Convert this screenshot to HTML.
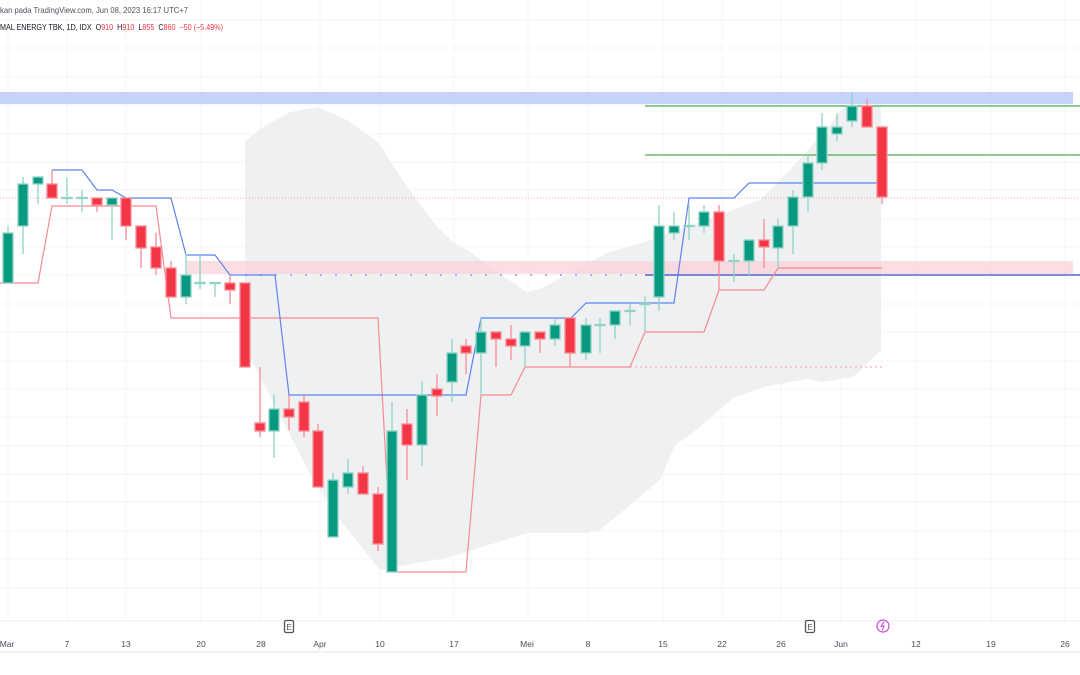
<!DOCTYPE html>
<html><head><meta charset="utf-8"><style>
html,body{margin:0;padding:0;background:#fff;width:1080px;height:675px;overflow:hidden}
svg{display:block;font-family:"Liberation Sans",sans-serif}
</style></head><body>
<svg width="1080" height="675" viewBox="0 0 1080 675" xmlns="http://www.w3.org/2000/svg">
<rect width="1080" height="675" fill="#fff"/>
<g stroke="#f3f4f6" stroke-width="1">
<line x1="0" y1="20" x2="1080" y2="20"/><line x1="0" y1="48" x2="1080" y2="48"/><line x1="0" y1="77" x2="1080" y2="77"/><line x1="0" y1="105" x2="1080" y2="105"/><line x1="0" y1="134" x2="1080" y2="134"/><line x1="0" y1="162" x2="1080" y2="162"/><line x1="0" y1="190" x2="1080" y2="190"/><line x1="0" y1="219" x2="1080" y2="219"/><line x1="0" y1="247" x2="1080" y2="247"/><line x1="0" y1="275" x2="1080" y2="275"/><line x1="0" y1="304" x2="1080" y2="304"/><line x1="0" y1="332" x2="1080" y2="332"/><line x1="0" y1="361" x2="1080" y2="361"/><line x1="0" y1="389" x2="1080" y2="389"/><line x1="0" y1="417" x2="1080" y2="417"/><line x1="0" y1="446" x2="1080" y2="446"/><line x1="0" y1="474" x2="1080" y2="474"/><line x1="0" y1="502" x2="1080" y2="502"/><line x1="0" y1="531" x2="1080" y2="531"/><line x1="0" y1="559" x2="1080" y2="559"/><line x1="0" y1="588" x2="1080" y2="588"/>
<line x1="8" y1="0" x2="8" y2="621"/><line x1="67" y1="0" x2="67" y2="621"/><line x1="126" y1="0" x2="126" y2="621"/><line x1="201" y1="0" x2="201" y2="621"/><line x1="261" y1="0" x2="261" y2="621"/><line x1="320" y1="0" x2="320" y2="621"/><line x1="380" y1="0" x2="380" y2="621"/><line x1="454" y1="0" x2="454" y2="621"/><line x1="528" y1="0" x2="528" y2="621"/><line x1="588" y1="0" x2="588" y2="621"/><line x1="663" y1="0" x2="663" y2="621"/><line x1="722" y1="0" x2="722" y2="621"/><line x1="781" y1="0" x2="781" y2="621"/><line x1="841" y1="0" x2="841" y2="621"/><line x1="916" y1="0" x2="916" y2="621"/><line x1="991" y1="0" x2="991" y2="621"/><line x1="1065" y1="0" x2="1065" y2="621"/>
</g>
<!-- cloud -->
<path d="M245,142 L260,129 L290,112 L318,107 L347,120 L378,142 L407,187 L437,227 L453,242 L470,252 L497,272 L527,292 L542,288 L570,273 L607,253 L645,242 L700,222 L760,200 L787,173 L817,140 L850,100 L867,92 L881,92 L881,350 L853,377 L823,382 L807,379 L763,387 L733,398 L705,422 L690,435 L675,445 L660,480 L600,530 L587,533 L527,533 L450,557 L380,570 L340,520 L313,480 L250,357 L245,350 Z" fill="#eff0f2"/>
<rect x="0" y="92" width="1073" height="12" fill="#c5d3fb"/>
<rect x="187" y="261" width="886" height="13" fill="#f9d3d8" opacity="0.75"/>
<line x1="645" y1="106" x2="1080" y2="106" stroke="#4caf50" stroke-width="1.3"/>
<line x1="645" y1="155" x2="1080" y2="155" stroke="#4caf50" stroke-width="1.3"/>
<line x1="0" y1="198" x2="1080" y2="198" stroke="#f5a0a8" stroke-width="1" stroke-dasharray="1,2"/>
<line x1="630" y1="367" x2="882" y2="367" stroke="#f5a0a8" stroke-width="1" stroke-dasharray="2,3"/>
<line x1="245" y1="275" x2="645" y2="275" stroke="#9fb4f5" stroke-width="2" stroke-dasharray="2,13"/>
<line x1="645" y1="275" x2="1080" y2="275" stroke="#2c4bc7" stroke-width="1.2"/>
<!-- lines -->
<polyline fill="none" stroke="#f68b91" stroke-width="1.2" points="0,283 38,283 52,206 156,206 171,318 378,318 392,572 466,572 481,395 511,395 525,367 630,367 645,332 704,332 719,290 764,290 778,268 882,268"/>
<polyline fill="none" stroke="#5b84f0" stroke-width="1.2" points="52,170 82,170 97,190 112,190 126,198 171,198 186,255 215,255 230,275 275,275 289,395 466,395 481,318 571,318 586,303 674,303 689,198 734,198 749,183 882,183"/>
<!-- candles -->
<g stroke-width="1.3">
<g stroke="#8fd3c5" fill="#089981">
<line x1="8" y1="226" x2="8" y2="283"/><rect x="3" y="233" width="10" height="50"/>
<line x1="23" y1="177" x2="23" y2="254"/><rect x="18" y="184" width="10" height="42"/>
<line x1="38" y1="177" x2="38" y2="204"/><rect x="33" y="177" width="10" height="7"/>
<line x1="67" y1="177" x2="67" y2="204"/><rect x="62" y="197.5" width="10" height="1"/>
<line x1="82" y1="190" x2="82" y2="212"/><rect x="77" y="197.5" width="10" height="1"/>
<line x1="112" y1="198" x2="112" y2="240"/><rect x="107" y="198" width="10" height="7"/>
<line x1="186" y1="254" x2="186" y2="304"/><rect x="181" y="275" width="10" height="22"/>
<line x1="200" y1="254" x2="200" y2="289"/><rect x="195" y="282.5" width="10" height="1"/>
<line x1="215" y1="283" x2="215" y2="297"/><rect x="210" y="282.5" width="10" height="1"/>
<line x1="274" y1="395" x2="274" y2="458"/><rect x="269" y="409" width="10" height="22"/>
<line x1="333" y1="473" x2="333" y2="537"/><rect x="328" y="480" width="10" height="57"/>
<line x1="348" y1="459" x2="348" y2="494"/><rect x="343" y="473" width="10" height="14"/>
<line x1="392" y1="402" x2="392" y2="572"/><rect x="387" y="431" width="10" height="141"/>
<line x1="422" y1="381" x2="422" y2="466"/><rect x="417" y="395" width="10" height="50"/>
<line x1="452" y1="339" x2="452" y2="402"/><rect x="447" y="353" width="10" height="29"/>
<line x1="481" y1="318" x2="481" y2="395"/><rect x="476" y="332" width="10" height="21"/>
<line x1="525" y1="332" x2="525" y2="367"/><rect x="520" y="332" width="10" height="14"/>
<line x1="555" y1="318" x2="555" y2="346"/><rect x="550" y="325" width="10" height="14"/>
<line x1="586" y1="318" x2="586" y2="360"/><rect x="581" y="325" width="10" height="28"/>
<line x1="600" y1="318" x2="600" y2="353"/><rect x="595" y="324.5" width="10" height="1"/>
<line x1="615" y1="311" x2="615" y2="339"/><rect x="610" y="311" width="10" height="14"/>
<line x1="630" y1="304" x2="630" y2="325"/><rect x="625" y="310.5" width="10" height="1"/>
<line x1="645" y1="296" x2="645" y2="332"/><rect x="640" y="303.5" width="10" height="1"/>
<line x1="659" y1="205" x2="659" y2="311"/><rect x="654" y="226" width="10" height="71"/>
<line x1="674" y1="212" x2="674" y2="240"/><rect x="669" y="226" width="10" height="7"/>
<line x1="689" y1="205" x2="689" y2="240"/><rect x="684" y="225.5" width="10" height="1"/>
<line x1="704" y1="205" x2="704" y2="233"/><rect x="699" y="212" width="10" height="14"/>
<line x1="734" y1="254" x2="734" y2="282"/><rect x="729" y="260.5" width="10" height="1"/>
<line x1="749" y1="240" x2="749" y2="275"/><rect x="744" y="240" width="10" height="21"/>
<line x1="778" y1="219" x2="778" y2="268"/><rect x="773" y="226" width="10" height="22"/>
<line x1="793" y1="190" x2="793" y2="254"/><rect x="788" y="197" width="10" height="29"/>
<line x1="808" y1="155" x2="808" y2="212"/><rect x="803" y="163" width="10" height="34"/>
<line x1="822" y1="113" x2="822" y2="170"/><rect x="817" y="127" width="10" height="36"/>
<line x1="837" y1="113" x2="837" y2="141"/><rect x="832" y="127" width="10" height="7"/>
<line x1="852" y1="92" x2="852" y2="127"/><rect x="847" y="106" width="10" height="15"/>
</g>
<g stroke="#f78a94" fill="#f23645">
<line x1="52" y1="170" x2="52" y2="198"/><rect x="47" y="184" width="10" height="14"/>
<line x1="97" y1="198" x2="97" y2="212"/><rect x="92" y="198" width="10" height="7"/>
<line x1="126" y1="198" x2="126" y2="240"/><rect x="121" y="198" width="10" height="28"/>
<line x1="141" y1="226" x2="141" y2="268"/><rect x="136" y="226" width="10" height="22"/>
<line x1="156" y1="233" x2="156" y2="275"/><rect x="151" y="247" width="10" height="21"/>
<line x1="171" y1="261" x2="171" y2="297"/><rect x="166" y="268" width="10" height="29"/>
<line x1="230" y1="275" x2="230" y2="304"/><rect x="225" y="283" width="10" height="7"/>
<rect x="240" y="283" width="10" height="84"/>
<line x1="260" y1="367" x2="260" y2="437"/><rect x="255" y="423" width="10" height="8"/>
<line x1="289" y1="395" x2="289" y2="430"/><rect x="284" y="409" width="10" height="8"/>
<line x1="304" y1="395" x2="304" y2="437"/><rect x="299" y="402" width="10" height="29"/>
<line x1="318" y1="424" x2="318" y2="487"/><rect x="313" y="431" width="10" height="56"/>
<line x1="363" y1="466" x2="363" y2="494"/><rect x="358" y="473" width="10" height="21"/>
<line x1="378" y1="487" x2="378" y2="551"/><rect x="373" y="494" width="10" height="50"/>
<line x1="407" y1="409" x2="407" y2="480"/><rect x="402" y="424" width="10" height="21"/>
<line x1="437" y1="374" x2="437" y2="416"/><rect x="432" y="389" width="10" height="7"/>
<line x1="466" y1="339" x2="466" y2="374"/><rect x="461" y="346" width="10" height="7"/>
<line x1="496" y1="332" x2="496" y2="367"/><rect x="491" y="332" width="10" height="7"/>
<line x1="511" y1="325" x2="511" y2="360"/><rect x="506" y="339" width="10" height="7"/>
<line x1="540" y1="332" x2="540" y2="353"/><rect x="535" y="332" width="10" height="7"/>
<line x1="570" y1="318" x2="570" y2="367"/><rect x="565" y="318" width="10" height="35"/>
<line x1="719" y1="205" x2="719" y2="290"/><rect x="714" y="212" width="10" height="49"/>
<line x1="764" y1="219" x2="764" y2="268"/><rect x="759" y="240" width="10" height="7"/>
<line x1="867" y1="99" x2="867" y2="127"/><rect x="862" y="106" width="10" height="21"/>
<line x1="882" y1="127" x2="882" y2="204"/><rect x="877" y="127" width="10" height="70"/>
</g>
</g>
<!-- axis -->
<line x1="0" y1="621" x2="1080" y2="621" stroke="#eceef2"/>
<line x1="0" y1="652" x2="1080" y2="652" stroke="#e0e3eb"/>
<g font-size="8.5" fill="#4a4e5a" text-anchor="middle">
<text x="7" y="647">Mar</text><text x="67" y="647">7</text><text x="126" y="647">13</text><text x="201" y="647">20</text><text x="261" y="647">28</text><text x="320" y="647">Apr</text><text x="380" y="647">10</text><text x="454" y="647">17</text><text x="527" y="647">Mei</text><text x="588" y="647">8</text><text x="663" y="647">15</text><text x="722" y="647">22</text><text x="781" y="647">26</text><text x="841" y="647">Jun</text><text x="916" y="647">12</text><text x="991" y="647">19</text><text x="1065" y="647">26</text>
</g>
<g>
<rect x="284.5" y="620.5" width="9" height="12" rx="1.5" fill="#fff" stroke="#50535e" stroke-width="1.3"/><text x="289" y="630" font-size="8" text-anchor="middle" fill="#50535e">E</text>
<rect x="805.5" y="620.5" width="9" height="12" rx="1.5" fill="#fff" stroke="#50535e" stroke-width="1.3"/><text x="810" y="630" font-size="8" text-anchor="middle" fill="#50535e">E</text>
<circle cx="883" cy="626" r="6" fill="#fff" stroke="#c846d8" stroke-width="1.2"/><path d="M884,621.5 L881,626.5 L884,626 L882,630.5" fill="none" stroke="#c846d8" stroke-width="1"/>
</g>
<text x="0" y="13" font-size="8.5" fill="#50535e" textLength="188" lengthAdjust="spacingAndGlyphs">kan pada TradingView.com, Jun 08, 2023 16:17 UTC+7</text>
<text x="0" y="30" font-size="8" fill="#131722" textLength="223" lengthAdjust="spacingAndGlyphs">MAL ENERGY TBK, 1D, IDX&#160; O<tspan fill="#f23645">910</tspan>&#160; H<tspan fill="#f23645">910</tspan>&#160; L<tspan fill="#f23645">855</tspan>&#160; C<tspan fill="#f23645">860&#160; −50 (−5.49%)</tspan></text>
</svg>
</body></html>
